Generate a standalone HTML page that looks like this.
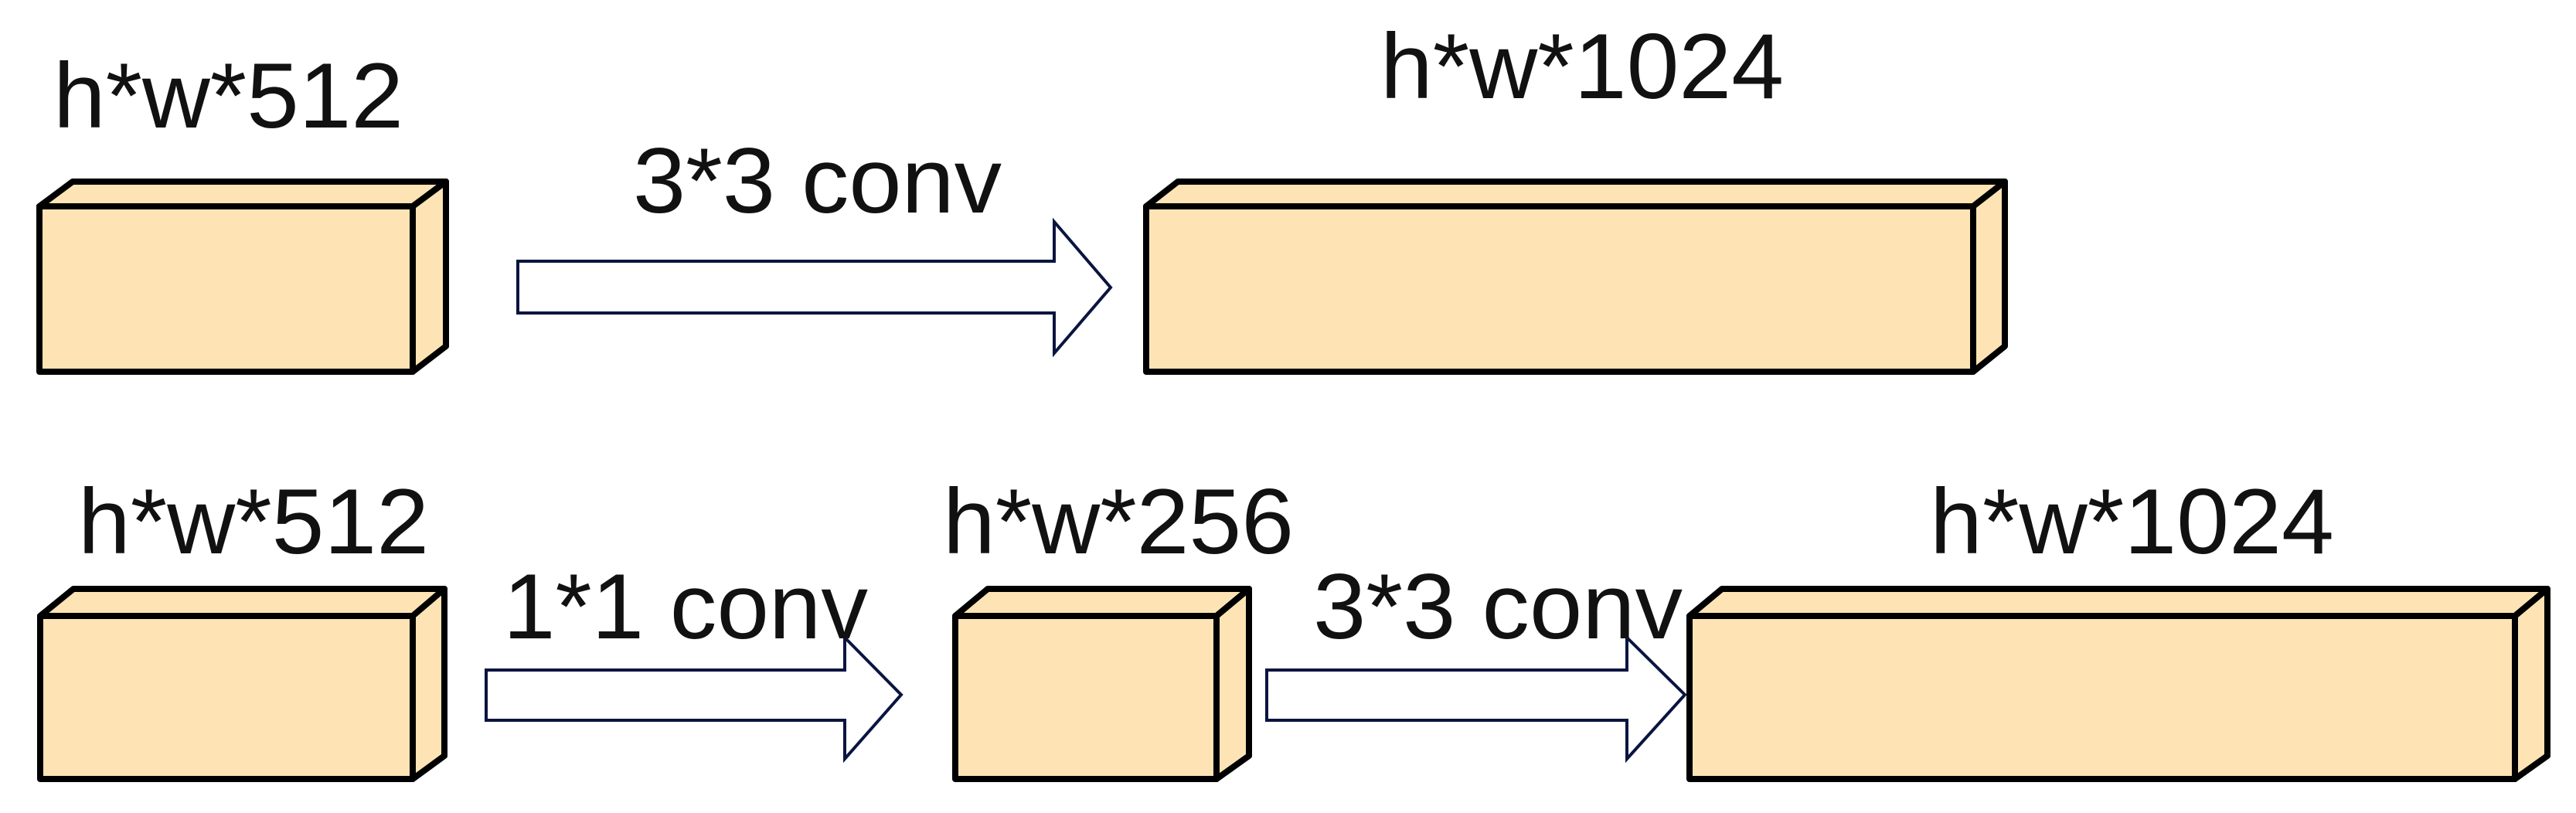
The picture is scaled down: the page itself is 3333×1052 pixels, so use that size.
<!DOCTYPE html>
<html><head><meta charset="utf-8"><style>
html,body{margin:0;padding:0;background:#fff;}
svg{display:block}
text{font-family:"Liberation Sans",sans-serif;font-size:120px;fill:#111;}
</style></head><body>
<svg width="3333" height="1052" viewBox="0 0 3333 1052" xmlns="http://www.w3.org/2000/svg">
<g fill="#fee4b5" stroke="#000" stroke-width="8" stroke-linejoin="round">
  <!-- Box1 -->
  <polygon points="51,267 94,235 577,235 534,267"/>
  <polygon points="534,267 577,235 577,448 534,481"/>
  <rect x="51" y="267" width="483" height="214"/>
  <!-- Box2 -->
  <polygon points="1483,267 1524,235 2594,235 2553,267"/>
  <polygon points="2553,267 2594,235 2594,448 2553,481"/>
  <rect x="1483" y="267" width="1070" height="214"/>
  <!-- Box3 -->
  <polygon points="52,797 95,762 575,762 534,797"/>
  <polygon points="534,797 575,762 575,978 534,1008"/>
  <rect x="52" y="797" width="482" height="211"/>
  <!-- Box4 -->
  <polygon points="1236,797 1278,762 1616,762 1574,797"/>
  <polygon points="1574,797 1616,762 1616,978 1574,1008"/>
  <rect x="1236" y="797" width="338" height="211"/>
  <!-- Box5 -->
  <polygon points="2186,797 2228,762 3296,762 3254,797"/>
  <polygon points="3254,797 3296,762 3296,978 3254,1008"/>
  <rect x="2186" y="797" width="1068" height="211"/>
</g>
<g fill="#fff" stroke="#0a1440" stroke-width="4" stroke-linejoin="miter">
  <polygon points="670,338 1364,338 1364,287 1437,372 1364,457 1364,405 670,405"/>
  <polygon points="629,867 1093,867 1093,825 1166,899 1093,982 1093,932 629,932"/>
  <polygon points="1639,867 2105,867 2105,825 2180,899 2105,982 2105,932 1639,932"/>
</g>
<text x="69" y="165" textLength="453" lengthAdjust="spacingAndGlyphs">h*w*512</text>
<text x="819" y="275" textLength="477" lengthAdjust="spacingAndGlyphs">3*3 conv</text>
<text x="1786" y="127" textLength="522" lengthAdjust="spacingAndGlyphs">h*w*1024</text>
<text x="101" y="716" textLength="454" lengthAdjust="spacingAndGlyphs">h*w*512</text>
<text x="651" y="826" textLength="472" lengthAdjust="spacingAndGlyphs">1*1 conv</text>
<text x="1220" y="716" textLength="454" lengthAdjust="spacingAndGlyphs">h*w*256</text>
<text x="1699" y="826" textLength="478" lengthAdjust="spacingAndGlyphs">3*3 conv</text>
<text x="2497" y="716" textLength="523" lengthAdjust="spacingAndGlyphs">h*w*1024</text>
</svg>
</body></html>
